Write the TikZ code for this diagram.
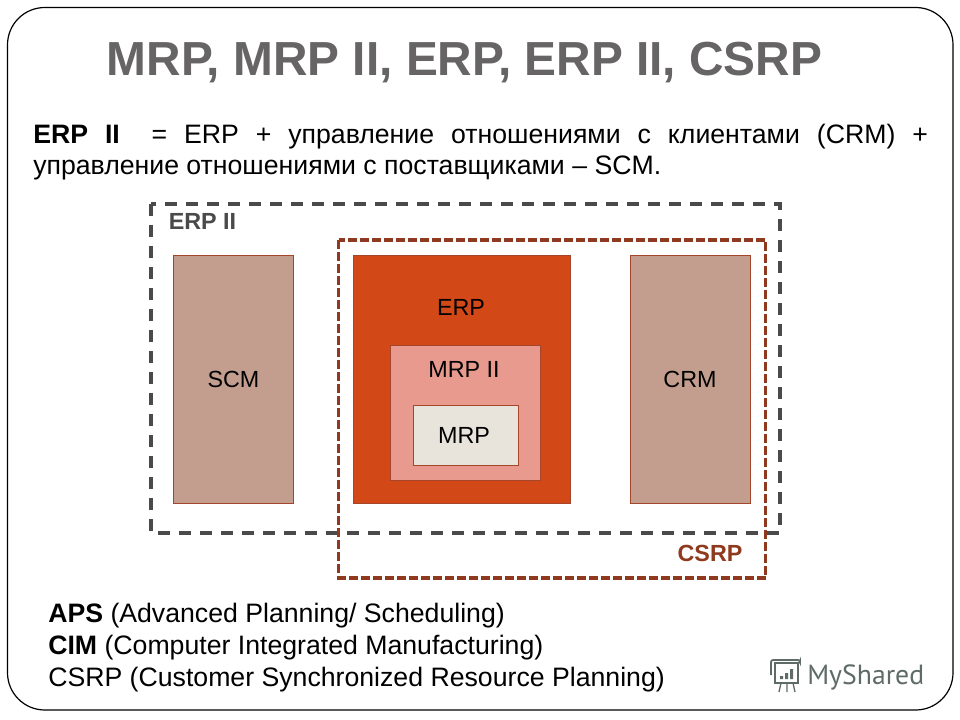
\documentclass[tikz,border=0pt]{standalone}
\usepackage{fontspec}
\setmainfont{Liberation Sans}
\newfontfamily\logofont{PT Sans}
\definecolor{titlegray}{HTML}{666464}
\definecolor{dashgray}{HTML}{4A4A4A}
\definecolor{csrpred}{HTML}{8F3A1E}
\definecolor{edgered}{HTML}{A5452A}
\definecolor{sidefill}{HTML}{C39E8F}
\definecolor{erpfill}{HTML}{D34817}
\definecolor{mrptwofill}{HTML}{E99A8E}
\definecolor{mrpfill}{HTML}{E8E4DC}
\definecolor{logogray}{HTML}{5F6B66}

\begin{document}
\begin{tikzpicture}[x=0.75pt,y=-0.75pt,
    box node/.style={rectangle,draw=edgered,line width=0.6pt,inner sep=0pt,font=\fontsize{17.5}{20}\selectfont},
    box text/.style={inner sep=0pt,font=\fontsize{17.5}{20}\selectfont},
    body text/.style={inner sep=0pt,anchor=north west,align=left,font=\fontsize{20}{23.5}\selectfont},
    tag text/.style={inner sep=0pt,font=\fontsize{17.5}{20}\selectfont\bfseries}]

    \useasboundingbox (0,0) rectangle (960,720);
    \draw[black,line width=0.9pt,rounded corners=28pt] (7.5,7.5) rectangle (953,710);

    \node[inner sep=0pt,anchor=base,text=titlegray,font=\fontsize{35.85}{40}\selectfont\bfseries] (title) at (464.5,76) {MRP, MRP II, ERP, ERP II, CSRP};

    \node[body text,text width=671pt,align=justify] (intro) at (33,124) {\textbf{ERP II}\hspace{0.55em} = ERP + управление отношениями с клиентами (CRM) +\linebreak управление отношениями с поставщиками – SCM.};

    % inner boxes
    \node[box node,fill=sidefill,minimum width=90.3pt,minimum height=186pt] (scm) at (233.5,379.3) {SCM};
    \node[box node,fill=erpfill,minimum width=163pt,minimum height=186pt] (erp) at (462,379.3) {};
    \node[box node,fill=mrptwofill,minimum width=112pt,minimum height=100.7pt] (mrptwo) at (465.3,412.8) {};
    \node[box node,fill=mrpfill,minimum width=78.75pt,minimum height=44.5pt] (mrp) at (465.8,435.3) {};
    \node[box node,fill=sidefill,minimum width=90pt,minimum height=186pt] (crm) at (690,379.3) {CRM};
    \node[box text] (erplabel) at (461,307) {ERP};
    \node[box text] (mrptwolabel) at (464,369) {MRP II};
    \node[box text] (mrplabel) at (464,435) {MRP};

    % dashed frames
    \draw[dashgray,line width=2.5pt,dash pattern=on 9pt off 6.75pt] (151,204) rectangle (780,533);
    \draw[csrpred,line width=2.5pt,dash pattern=on 6.75pt off 2.25pt] (338.5,240) rectangle (765.5,578);
    \node[tag text,text=dashgray] (erptwotag) at (202.5,221) {ERP II};
    \node[tag text,text=csrpred] (csrptag) at (710,553) {CSRP};

    \node[body text,font=\fontsize{20}{24}\selectfont] (notes) at (48,602.5) {\textbf{APS} (Advanced Planning/ Scheduling)\\\textbf{CIM} (Computer Integrated Manufacturing)\\CSRP (Customer Synchronized Resource Planning)};

    % logo
    \node[inner sep=0pt,anchor=base west,text=logogray,font=\fontsize{20.8}{24}\logofont] (logo) at (807,684) {MyShared};
    \draw[logogray,line width=1.3pt] (775,663) rectangle (798,683);
    \draw[logogray,line width=1.3pt,rounded corners=1.5pt] (771,675) -- (771,660) -- (800,660) -- (800,663) -- (775,663);
    \fill[logogray] (780,676) rectangle (783,679) (785,673) rectangle (788,679) (790,669) rectangle (793,679);
    \draw[logogray,line width=1pt] (781,683) -- (779,692) (787,683) -- (787,692) (793,683) -- (795,692);
\end{tikzpicture}
\end{document}
